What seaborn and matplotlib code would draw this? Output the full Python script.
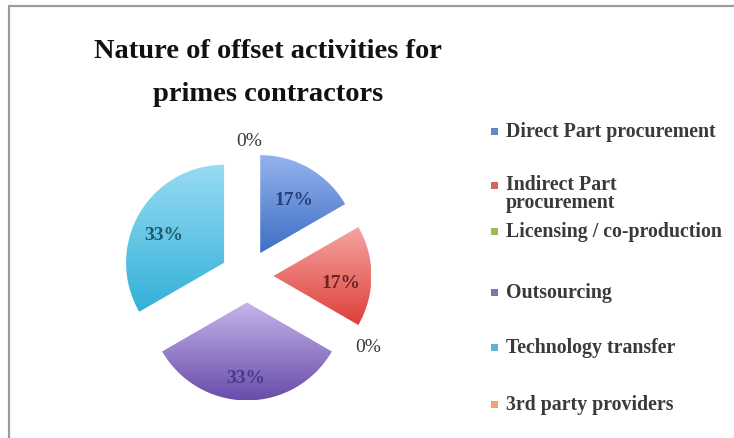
import numpy as np
import matplotlib
matplotlib.use("Agg")
import matplotlib.pyplot as plt
from matplotlib.lines import Line2D
from matplotlib.patches import Rectangle
from matplotlib.transforms import offset_copy
import seaborn as sns

# Survey results: nature of offset activities reported for prime contractors
categories = [
    "Direct Part procurement",
    "Indirect Part\nprocurement",
    "Licensing / co-production",
    "Outsourcing",
    "Technology transfer",
    "3rd party providers",
]
responses = [1, 1, 0, 2, 2, 0]
title_lines = ["Nature of offset activities for", "primes contractors"]

# Colours: legend key, gradient top / bottom of each slice, value label ink
key_colors = ["#6386c8", "#d0655f", "#9bbb59", "#8670b0", "#5bb6d2", "#f5a070"]
fill_top = ["#95b4ee", "#f4a6a2", "#c3da9a", "#c4b5ea", "#98dcf2", "#fbc49c"]
fill_bottom = ["#3e6ec6", "#de3f3a", "#7fa23c", "#6a4cab", "#32b0d8", "#e47a2e"]
label_colors = ["#263f7c", "#6a2424", "#3d5a1a", "#473a86", "#1d5a6e", "#7a3a10"]

sns.set_theme(style="white")
plt.rcParams["font.family"] = ["Liberation Serif", "DejaVu Serif"]

W, H = 734, 439
fig = plt.figure(figsize=(W / 100, H / 100), dpi=100)
fig.patch.set_facecolor("white")


def fx(px):
    return px / W


def fy(py):
    return 1 - py / H


# Pie axes: centre and radius in pixels
R_PX = 98
CX, CY = 247, 277
HALF = 150
ax = fig.add_axes([fx(CX - HALF), fy(CY + HALF), 2 * HALF / W, 2 * HALF / H])
wedges, _ = ax.pie(
    responses,
    explode=[0.27] * len(responses),
    startangle=90,
    counterclock=False,
    radius=1.0,
    wedgeprops=dict(linewidth=0),
)
lim = HALF / R_PX
ax.set_xlim(-lim, lim)
ax.set_ylim(-lim, lim)
ax.set_aspect("equal")
ax.axis("off")

total = sum(responses)
grad = np.linspace(0, 1, 256).reshape(-1, 1)
inner_tf = offset_copy(ax.transData, fig=fig, x=-1, y=-6, units="dots")
outer_tf = offset_copy(ax.transData, fig=fig, x=2, y=-2, units="dots")
for i, w in enumerate(wedges):
    ang = np.deg2rad((w.theta1 + w.theta2) / 2)
    ux, uy = np.cos(ang), np.sin(ang)
    cx, cy = w.center
    pct = f"{round(100 * responses[i] / total)}%"
    if responses[i] > 0:
        # vertical gradient fill clipped to the slice
        w.set_facecolor("none")
        ext = w.get_path().get_extents()
        cmap = sns.blend_palette([fill_bottom[i], fill_top[i]], as_cmap=True)
        ax.imshow(
            grad,
            extent=[ext.x0, ext.x1, ext.y0, ext.y1],
            origin="lower",
            cmap=cmap,
            aspect="auto",
            interpolation="bicubic",
            clip_path=w,
            zorder=1,
        )
        ax.text(cx + 0.7 * ux, cy + 0.7 * uy, pct, ha="center", va="center",
                fontsize=14, fontweight="bold", color=label_colors[i], zorder=3,
                transform=inner_tf)
    else:
        ax.text(cx + 1.13 * ux, cy + 1.13 * uy, pct, ha="center", va="center",
                fontsize=14, color="#3a3a3a", zorder=3, transform=outer_tf)
ax.set_xlim(-lim, lim)
ax.set_ylim(-lim, lim)

# Title, two lines
for line, base in zip(title_lines, [58, 101]):
    fig.text(fx(268), fy(base), line, ha="center", va="baseline", fontsize=20.5,
             fontweight="bold", color="#111111")

# Legend
row_y = [132, 194, 232, 293, 348, 405]
key_y = [132, 186, 232, 293, 348, 405]
for i, label in enumerate(categories):
    fig.add_artist(Rectangle((fx(491), fy(key_y[i] + 3.5)), 7 / W, 7 / H,
                             transform=fig.transFigure, facecolor=key_colors[i],
                             edgecolor="none"))
    fig.text(fx(506), fy(row_y[i]), label, ha="left", va="center", fontsize=14.3,
             fontweight="bold", color="#3a3a3a", linespacing=0.9)

# Chart frame (left and top edges)
fig.add_artist(Line2D([fx(8.5), fx(8.5)], [fy(7), 0], transform=fig.transFigure,
                      color="#9c9c9c", lw=1.6))
fig.add_artist(Line2D([fx(8.5), 1], [fy(7), fy(7)], transform=fig.transFigure,
                      color="#9c9c9c", lw=1.6))

fig.savefig("out.png", dpi=100, facecolor="white")
